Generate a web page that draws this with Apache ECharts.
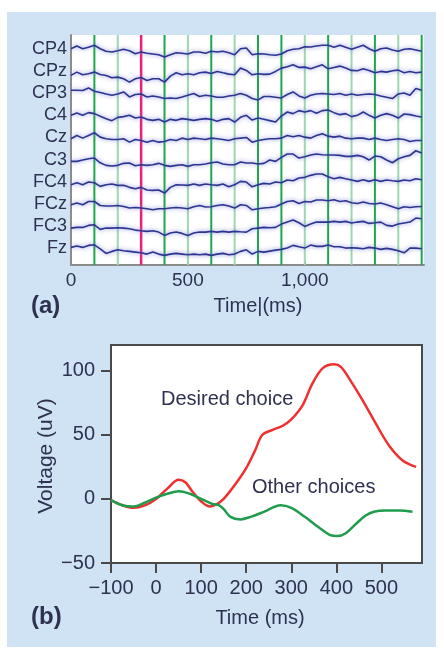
<!DOCTYPE html>
<html><head><meta charset="utf-8">
<script src="https://cdn.jsdelivr.net/npm/echarts@6/dist/echarts.min.js"></script>
<style>
html,body{margin:0;padding:0;background:#fff;}
#wrap{position:relative;width:444px;height:655px;overflow:hidden;}
#panel{position:absolute;left:7px;top:12px;width:429px;height:635px;background:#cfe3f4;}
#chart{position:absolute;left:0;top:0;width:444px;height:655px;}
</style></head><body>
<div id="wrap"><div id="panel"></div><div id="chart"></div></div>
<script>
const FONT = "'Liberation Sans',Arial,sans-serif";
const TEXT = '#2e3150';

// ---------- Panel (a): EEG traces ----------
const channels = ['CP4','CPz','CP3','C4','Cz','C3','FC4','FCz','FC3','Fz'];
const eegTimes = [0,25,50,75,100,125,150,175,200,225,250,275,300,325,350,375,400,425,450,475,500,525,550,575,600,625,650,675,700,725,750,
  775,800,825,850,875,900,925,950,975,1000,1025,1050,1075,1100,1125,1150,1175,1200,1225,1250,1275,1300,1325,1350,1375,1400,1425,1450,1475,1500];
const cp4 = [0.3,3,0.3,1.7,3.7,0.3,-2.3,-3,-1.7,-0.3,-1.7,-4.7,-3,-4.3,-5,-5.7,-8,-5.7,-3.7,-4.3,-5,-3,-3,-4.3,-2.3,-3,-2.3,-3.7,-5.7,0.3,1,
  -5.7,-4.7,-5,-5.7,-6.3,-5,-1.7,-0.3,0.3,2.3,2,3,3.7,3.7,1.7,3.7,1.7,-0.3,1.7,3.7,0.3,-2.3,0.3,1,-1,-2.3,-0.3,0.3,-1,-2.3];
const cpz = [-4.3,-1,-3.7,-2.7,-1,-3.3,-4.3,-6.7,-6,-7.7,-11,-7.7,-6.3,-9.3,-7.7,-7.7,-11,-5,-1.7,-3.7,-2.7,-3.7,-1.7,-1,-2.3,-0.3,-1.7,-3,-3.7,3,0.7,
  -3.7,-2.7,-3.3,-3,-0.3,3,4.3,6.3,3.7,4,2.3,4.3,6.3,2.3,3.7,5,3,0.7,0.3,2.3,0.7,-1.7,-0.3,-1,0.3,1,-1.7,-0.3,-1.7,-1];
const cp3 = [3,3,2.7,5.3,2,0.7,-0.7,-2,-0.7,1.3,-3.7,-1.3,-0.7,-3.7,-2.7,-3.7,-5.3,-4.7,-5.3,-3.7,-2,-0.3,-3.3,-2,-2.7,-4,-4,-2.7,-2,-0.3,-2,
  -5.3,-6.7,-3.3,-3.3,-4,-4.7,-1.3,1.3,-2.7,-4.7,-2,-0.7,-0.3,-0.7,-1.3,-0.3,-2,-0.7,-2,-1.3,-0.7,-1.3,-2.7,-4,-5.3,-0.7,0.3,-2,4.7,3];
const c4 = [0,2.3,0,2.7,1.7,-1,-3.3,-5.3,-2,-1.3,0,-2.7,-1.7,-4,-5,-4,-6.7,-4,-5,-3.3,-4,-5,-4,-3.3,-4,-6,-4,-3.3,-6.7,-2,0,
  -4.7,-2.7,-4,-5.3,-6.7,-0.7,3.3,1.7,4.7,3.3,4.7,2,4.7,5.3,2.7,0.7,1.7,-1.3,0,3.3,0,-2.7,0,1.7,0,-2.7,1.3,0.7,-0.7,-1.7];
const cz = [-1.3,2,-0.7,2,4.7,0.3,-1.3,-2,-2,-1.3,-4.7,-2,-3,-4.7,-3,-4.7,-4,-2,-3,-0.7,-2,-0.7,-1.3,-2,-0.7,-1.3,-2,-3,-1.3,-0.7,0,
  -4.7,-3,-2,-1.3,-1.3,-0.7,2,0.7,2,0.3,-0.7,2,3.7,1.3,0.3,1.3,-0.7,-1.3,-0.7,-0.7,-2,-0.7,-2,-3,-2,-1.3,-2,-4,-3,-3];
const c3 = [-1.8,-1.8,-0.5,0.8,1.5,-3.2,-5.8,-6.5,-5.8,-3.8,-3.5,-6.2,-5.2,-5.8,-5.2,-3.8,-5.8,-6.8,-5.8,-5.2,-6.8,-5.2,-5.2,-4.5,-3.2,-2.5,-4.5,-5.2,-5.2,-2.5,-3.5,
  -3.5,-4.5,-3.8,-0.5,-1.8,2.2,5.5,5.5,1.5,2.8,4.5,5.5,4.8,4.5,4.5,4.2,3.2,3.2,4.2,2.8,-0.5,3.5,2.8,-0.5,-3.2,0.8,2.8,4.2,8.8,6.5];
const fc4 = [-3.1,-1.1,-3.1,-0.4,-1.1,-4.7,-3.1,-2.4,-3.7,-3.7,-5.7,-7.1,-5.7,-8.4,-8.7,-8.4,-11.4,-5.7,-3.1,-3.4,-3.7,-2.4,-3.7,-2.4,-3.1,-3.7,-2.4,-5.1,-3.1,0.3,-0.4,
  -5.1,-3.1,-1.7,-2.4,-0.4,-1.1,1.6,0.9,3.6,4.3,6.3,7.6,7.6,4.9,2.9,4.3,2.9,1.6,0.3,1.9,0.3,1.9,0.3,1.6,0.9,0.3,1.6,0.9,2.9,1.9];
const fcz = [-1,0.7,-1,2.3,2.3,-1.7,-2.3,-2.3,-1.7,-2.7,-4.3,-3.7,-4.3,-5,-6,-5,-5,-4.3,-3.7,-4.3,-5,-3,-1.7,-3.3,-3,-1.7,-1,-2.3,-4.3,-1,-1.7,
  -6,-5,-4.3,-3.7,-3,-0.3,2.3,3,0.3,2.3,1.7,3.7,3.7,3,4,2.3,3,1,0.3,1.7,0.3,-0.3,0.7,-1,-3,-5,-3,-3.7,-3,-2.7];
const fc3 = [-2.2,-1.5,-1.5,0.5,1.1,-3.5,-2.2,-2.2,-1.9,-2.2,-2.9,-4.2,-4.9,-5.5,-4.9,-6.2,-9.5,-7.2,-6.2,-7.5,-9.5,-7.2,-6.2,-6.2,-5.5,-6.2,-5.5,-6.2,-5.5,-5.9,-6.2,
  -2.9,-2.2,-1.5,-1.9,-1.5,1.8,3.8,5.8,3.1,-0.5,1.8,3.8,3.8,3.8,4.5,3.8,4.5,2.8,3.8,4.5,2.5,3.1,3.8,0.5,-0.2,1.8,2.8,3.8,7.8,7.1];
const fz = [0.6,1.9,0.6,2.6,3.2,-0.8,-5.4,-3.4,-1.8,-2.8,-3.4,-4.1,-4.8,-6.1,-4.1,-6.1,-7.4,-6.1,-5.4,-6.1,-6.8,-6.1,-6.8,-6.1,-7.4,-6.1,-5.4,-6.8,-6.1,-3.4,-1.8,
  -6.1,-3.4,-4.1,-3.1,-2.1,-1.4,-0.1,2.6,1.2,-0.1,2.9,1.6,1.6,2.9,1.2,1.2,-0.1,0.2,-0.1,-0.8,0.6,-0.1,-1.4,-0.4,-1.4,-2.8,-4.8,-0.1,-0.1,-0.8];
const eegData = [cp4,cpz,cp3,c4,cz,c3,fc4,fcz,fc3,fz];
const aTicks = [0,500,1000];
// event (stimulus) markers in ms; kind: 0 dark green, 1 light green, 2 magenta
const eventTimes = [100,200,300,400,500,600,700,800,900,1000,1100,1200,1300,1400,1500];
const eventKinds = [0,1,2,0,1,0,1,0,0,1,0,1,0,1,0];

// ---------- Panel (b): ERP ----------
const desiredT = [-100,-75,-50,-25,0,25,50,65,80,100,120,135,150,175,200,220,236,260,281,300,325,347,370,395,410,430,458,487,518,547,577];
const desiredV = [-1,-5,-7,-5,0,8,15,13,6,-2,-6,-4,0,11,24,38,50,54,57,62,73,90,102,105,103,93,77,59,41,30,25];
const otherT = [-100,-75,-50,-25,0,25,50,75,100,125,140,150,165,187,210,240,276,300,330,360,385,402,420,445,465,483,510,540,569];
const otherV = [-1,-5,-6,-3,1,4,6,4,0,-4,-5,-8,-14,-16,-14,-10,-5,-7,-14,-22,-28,-29,-27,-19,-13,-10,-9,-9,-10];
const bXTicks = [-100,0,100,200,300,400,500];
const bYTicks = [-50,0,50,100];

const SPACING = 22.1;           // channel spacing on panel (a) y axis
const yMinA = -17, yMaxA = 9*SPACING + 14;
const chanPos = channels.map((c,i)=> (channels.length-1-i)*SPACING);
const kindColors = ['#1ea64c','#9cd8b0','#ec1f78'];
const kindWidths = [2,2,2.5];
const minus = v => v < 0 ? '\u2212' + (-v) : String(v);

const chart = echarts.init(document.getElementById('chart'), null, {renderer:'canvas'});
const series = [];
series.push({
  type:'custom', xAxisIndex:0, yAxisIndex:0, z:1, silent:true,
  data: eventTimes.map((t,i)=>[t, eventKinds[i]]),
  encode:{x:0,y:1},
  renderItem:(params, api)=>{
    const t = api.value(0), k = api.value(1);
    const p1 = api.coord([t, yMinA]), p2 = api.coord([t, yMaxA]);
    return {type:'line', shape:{x1:p1[0],y1:p1[1],x2:p2[0],y2:p2[1]},
      style:{stroke:kindColors[k], lineWidth:kindWidths[k]}};
  }
});
channels.forEach((c,i)=>{
  series.push({
    type:'line', name:c, xAxisIndex:0, yAxisIndex:0, z:3, showSymbol:false, silent:true,
    data: eegTimes.map((t,j)=>[t, chanPos[i] + eegData[i][j]]),
    lineStyle:{color:'#2c3590', width:1.6, shadowBlur:4, shadowColor:'rgba(120,125,215,0.95)'}
  });
});
series.push({type:'line', name:'Desired choice', xAxisIndex:1, yAxisIndex:1, smooth:0.35, showSymbol:false,
  data: desiredT.map((t,i)=>[t, desiredV[i]]), lineStyle:{color:'#ef3030', width:2.5}, z:3});
series.push({type:'line', name:'Other choices', xAxisIndex:1, yAxisIndex:1, smooth:0.35, showSymbol:false,
  data: otherT.map((t,i)=>[t, otherV[i]]), lineStyle:{color:'#1f9d4c', width:2.5}, z:3});

const lab = (size, extra) => Object.assign({fontFamily:FONT, fontSize:size, color:TEXT}, extra||{});

chart.setOption({
  animation:false,
  backgroundColor:'transparent',
  grid:[
    {left:71, top:35, width:353, height:230, show:true, backgroundColor:'#fff', borderWidth:0},
    {left:111, top:345, width:311, height:218, show:true, backgroundColor:'#fff', borderColor:'#4a4a4a', borderWidth:2}
  ],
  xAxis:[
    {gridIndex:0, type:'value', min:0, max:1510,
      axisLine:{show:true, onZero:false, lineStyle:{color:'#8c8c8c', width:2}},
      axisTick:{show:true, inside:true, length:4, customValues:[500,1000], lineStyle:{color:'#8c8c8c'}},
      axisLabel:Object.assign(lab(19,{margin:6}), {customValues:aTicks, formatter:v=> v>=1000 ? (v/1000)+',000' : String(v)}),
      splitLine:{show:false}},
    {gridIndex:1, type:'value', min:-100, max:590,
      axisLine:{show:true, onZero:false, lineStyle:{color:'#4a4a4a', width:2}},
      axisTick:{show:true, inside:false, length:10, customValues:bXTicks, lineStyle:{color:'#4a4a4a', width:2}},
      axisLabel:Object.assign(lab(20,{margin:15}), {customValues:bXTicks, formatter:minus}),
      splitLine:{show:false}}
  ],
  yAxis:[
    {gridIndex:0, type:'value', min:yMinA, max:yMaxA,
      axisLine:{show:true, onZero:false, lineStyle:{color:'#8c8c8c', width:2}},
      axisTick:{show:false},
      axisLabel:Object.assign(lab(18,{margin:4}), {customValues:chanPos, formatter:v=>channels[channels.length-1-Math.round(v/SPACING)]}),
      splitLine:{show:false}},
    {gridIndex:1, type:'value', min:-50, max:120,
      axisLine:{show:true, onZero:false, lineStyle:{color:'#4a4a4a', width:2}},
      axisTick:{show:true, inside:false, length:10, customValues:bYTicks, lineStyle:{color:'#4a4a4a', width:2}},
      axisLabel:Object.assign(lab(20,{margin:16}), {customValues:bYTicks, formatter:minus}),
      splitLine:{show:false}}
  ],
  graphic:[
    {type:'text', x:31, y:306, style:{text:'(a)', font:"bold 24px "+FONT, fill:TEXT, align:'left', verticalAlign:'middle'}},
    {type:'text', x:258, y:306, style:{text:'Time|(ms)', font:"20px "+FONT, fill:TEXT, align:'center', verticalAlign:'middle'}},
    {type:'text', x:31, y:617, style:{text:'(b)', font:"bold 24px "+FONT, fill:TEXT, align:'left', verticalAlign:'middle'}},
    {type:'text', x:260, y:618, style:{text:'Time (ms)', font:"20px "+FONT, fill:TEXT, align:'center', verticalAlign:'middle'}},
    {type:'text', x:46, y:456, rotation:Math.PI/2, style:{text:'Voltage (uV)', font:"21px "+FONT, fill:TEXT, align:'center', verticalAlign:'middle'}},
    {type:'text', x:161, y:399, z:10, style:{text:'Desired choice', font:"20px "+FONT, fill:TEXT, align:'left', verticalAlign:'middle'}},
    {type:'text', x:252, y:487, z:10, style:{text:'Other choices', font:"20px "+FONT, fill:TEXT, align:'left', verticalAlign:'middle'}}
  ],
  series: series
});
</script>
</body></html>
